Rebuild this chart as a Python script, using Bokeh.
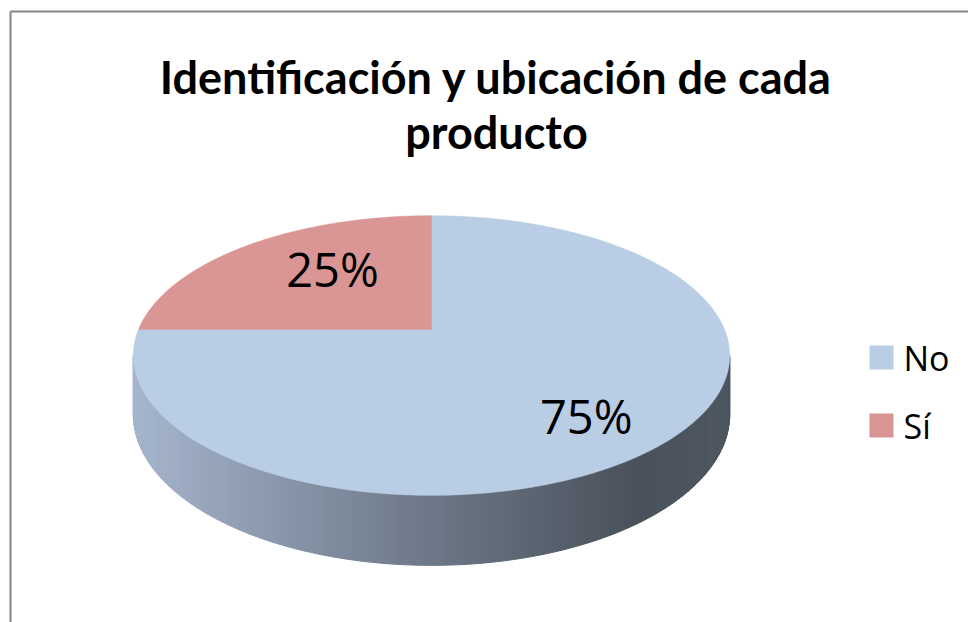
import numpy as np
from bokeh.plotting import figure
from bokeh.models import Range1d
from bokeh.core.properties import value
from bokeh.embed import file_html
from bokeh.resources import INLINE

# ---- data ----
title_lines = ["Identificación y ubicación de cada", "producto"]
categories = ["No", "Sí"]
values = [75, 25]
slice_colors = ["#b9cde4", "#d99694"]

# ---- layout / geometry (styling) ----
W, H = 968, 622
CX, CY = 431.0, 329.0      # projected pie centre (page px)
A, B = 293.0, 135.0        # horizontal / vertical radii at centre depth
K = 0.186                  # perspective factor
H0 = 57.0                  # wall thickness at centre depth
LABEL_R = {"No": 0.68, "Sí": 0.51}
LABEL_DY = {"No": 15.0, "Sí": -15.0}

def proj(u, v):
    w = 1.0 + K * v
    return CX + A * u / w, CY - B * v / w

def wall_h(v):
    return H0 / (1.0 + K * v)

p = figure(width=W, height=H, output_backend="svg", toolbar_location=None,
           x_range=Range1d(0, W), y_range=Range1d(H, 0),
           min_border=0, outline_line_color=None)
p.axis.visible = False
p.grid.visible = False
p.background_fill_color = "white"
p.border_fill_color = "white"

# chart-area border (top and left edges visible)
p.line(x=[10, W], y=[11, 11], line_color="#868686", line_width=2)
p.line(x=[10, 10], y=[11, H], line_color="#868686", line_width=2)

# ---- side wall (front) with horizontal gradient ----
t0 = np.pi + np.arcsin(K)
t1 = 2 * np.pi - np.arcsin(K)
ts = np.linspace(t0, t1, 161)
ux, vy = np.cos(ts), np.sin(ts)
tx, ty = proj(ux, vy)
bx, by = tx, ty + wall_h(vy)
xmin, xmax = tx.min(), tx.max()

stops_f = [0.0, 0.45, 0.84, 1.0]
stops_c = [(0xa6, 0xb6, 0xcd), (0x72, 0x7e, 0x8f), (0x4a, 0x52, 0x5b), (0x4e, 0x57, 0x61)]

def grad(f):
    r = np.interp(f, stops_f, [c[0] for c in stops_c])
    g = np.interp(f, stops_f, [c[1] for c in stops_c])
    b = np.interp(f, stops_f, [c[2] for c in stops_c])
    return "#%02x%02x%02x" % (int(r), int(g), int(b))

xs_w, ys_w, cs_w = [], [], []
for i in range(len(ts) - 1):
    xs_w.append([tx[i], tx[i + 1], bx[i + 1], bx[i]])
    ys_w.append([ty[i], ty[i + 1], by[i + 1], by[i]])
    f = ((tx[i] + tx[i + 1]) / 2 - xmin) / (xmax - xmin)
    cs_w.append(grad(f))
p.patches(xs=xs_w, ys=ys_w, fill_color=cs_w, line_color=cs_w, line_width=1)

# ---- top faces ----
total = float(sum(values))
start = np.pi / 2
xs_t, ys_t, mids = [], [], []
for val in values:
    span = 2 * np.pi * val / total
    th = np.linspace(start, start - span, 200)
    px, py = proj(np.cos(th), np.sin(th))
    cx0, cy0 = proj(0.0, 0.0)
    xs_t.append([cx0] + list(px))
    ys_t.append([cy0] + list(py))
    mids.append(start - span / 2)
    start -= span
p.patches(xs=xs_t, ys=ys_t, fill_color=slice_colors, line_color=slice_colors, line_width=0.5)

# ---- data labels ----
lab_x, lab_y, lab_t = [], [], []
for cat, m, val in zip(categories, mids, values):
    r = LABEL_R[cat]
    lx, ly = proj(r * np.cos(m), r * np.sin(m))
    lab_x.append(lx)
    lab_y.append(ly + LABEL_DY[cat])
    lab_t.append(f"{round(100 * val / total)}%")
p.text(x=lab_x, y=lab_y, text=lab_t, text_align="center", text_baseline="middle",
       text_font=value("Open Sans"), text_font_size="47px", text_color="black")

# ---- title ----
p.text(x=[496, 496], y=[76, 131], text=title_lines, text_align="center",
       text_baseline="alphabetic", text_font=value("Lato"), text_font_style="bold",
       text_font_size="45px", text_color="black")

# ---- legend ----
LEG_X, LEG_Y, LEG_DY = 881, 357, 68
leg_y = [LEG_Y + i * LEG_DY for i in range(len(categories))]
p.rect(x=[LEG_X] * len(categories), y=leg_y, width=24, height=24,
       fill_color=slice_colors, line_color=None)
p.text(x=[LEG_X + 22] * len(categories), y=leg_y, text=categories,
       text_align="left", text_baseline="middle", text_font=value("Open Sans"),
       text_font_size="34px", text_color="black")

open("out.html", "w").write(file_html(p, INLINE))
